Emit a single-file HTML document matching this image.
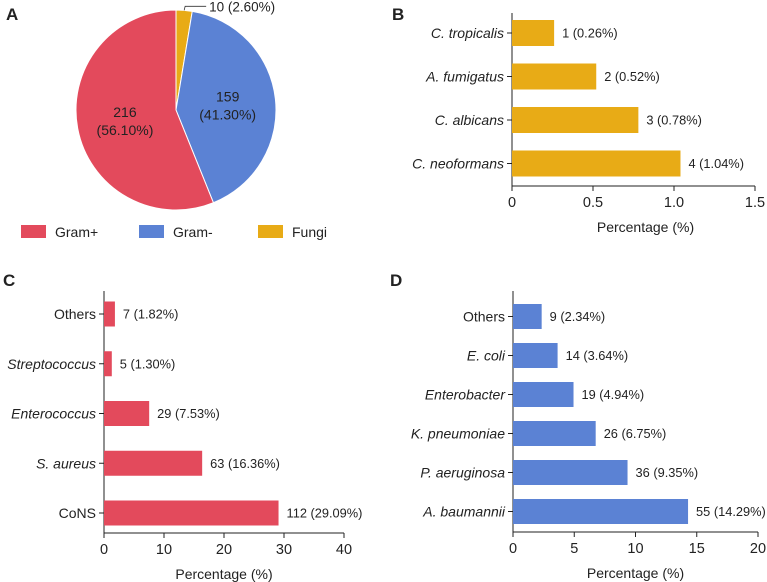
<!DOCTYPE html>
<html><head><meta charset="utf-8"><style>
body{margin:0;background:#fff;}
svg{display:block;font-family:"Liberation Sans",Arial,sans-serif;}
text{fill:#222;}
</style></head><body>
<svg id="fig" width="767" height="582" viewBox="0 0 767 582" xmlns="http://www.w3.org/2000/svg">
<text x="6" y="20" font-size="17" font-weight="bold">A</text>
<text x="392" y="20" font-size="17" font-weight="bold">B</text>
<text x="3" y="286" font-size="17" font-weight="bold">C</text>
<text x="390" y="286" font-size="17" font-weight="bold">D</text>
<g id="pie"></g>
<g id="legend"></g>
<g id="chartB"></g>
<g id="chartC"></g>
<g id="chartD"></g>
</svg>
<script>
const NS="http://www.w3.org/2000/svg";
const pieNames=["Fungi","Gram-","Gram+"];
const pieCounts=[10,159,216];
const pieLabels=["10 (2.60%)","159\n(41.30%)","216\n(56.10%)"];
const pieColors=["#e8ab16","#5b82d4","#e34a5c"];

const bCats=["C. tropicalis","A. fumigatus","C. albicans","C. neoformans"];
const bVals=[0.26,0.52,0.78,1.04];
const bLabels=["1 (0.26%)","2 (0.52%)","3 (0.78%)","4 (1.04%)"];
const bTicks=[0,0.5,1.0,1.5];
const bTickLabels=["0","0.5","1.0","1.5"];

const cCats=["Others","Streptococcus","Enterococcus","S. aureus","CoNS"];
const cItalic=[false,true,true,true,false];
const cVals=[1.82,1.30,7.53,16.36,29.09];
const cLabels=["7 (1.82%)","5 (1.30%)","29 (7.53%)","63 (16.36%)","112 (29.09%)"];
const cTicks=[0,10,20,30,40];

const dCats=["Others","E. coli","Enterobacter","K. pneumoniae","P. aeruginosa","A. baumannii"];
const dItalic=[false,true,true,true,true,true];
const dVals=[2.34,3.64,4.94,6.75,9.35,14.29];
const dLabels=["9 (2.34%)","14 (3.64%)","19 (4.94%)","26 (6.75%)","36 (9.35%)","55 (14.29%)"];
const dTicks=[0,5,10,15,20];

function el(tag,attrs,parent){const e=document.createElementNS(NS,tag);for(const k in attrs)e.setAttribute(k,attrs[k]);parent.appendChild(e);return e;}

(function(){
  const g=document.getElementById('pie');
  const cx=176,cy=110,r=100;
  const total=pieCounts.reduce((a,b)=>a+b,0);
  let a0=0;
  pieCounts.forEach((v,i)=>{
    const a1=a0+v/total*2*Math.PI;
    const x0=cx+r*Math.sin(a0),y0=cy-r*Math.cos(a0),x1=cx+r*Math.sin(a1),y1=cy-r*Math.cos(a1);
    const large=(a1-a0)>Math.PI?1:0;
    const p=el('path',{d:`M${cx},${cy}L${x0},${y0}A${r},${r} 0 ${large} 1 ${x1},${y1}Z`,fill:pieColors[i],stroke:'#fff','stroke-width':1},g);
    
    
    const mid=(a0+a1)/2;
    if(i===0){
      const lx=cx+r*Math.sin(mid),ly=cy-r*Math.cos(mid);
      const ln=el('polyline',{points:`${lx},${ly} ${lx+1},${ly-4} ${lx+22},${ly-4}`,fill:'none',stroke:'#333','stroke-width':0.8},g);
      
      
      const t=el('text',{x:lx+25,y:ly+1,'font-size':13.5},g);t.textContent=pieLabels[i];
      
      
    } else {
      const rr=r*0.52;
      const tx=cx+rr*Math.sin(mid),ty=cy-rr*Math.cos(mid);
      const parts=pieLabels[i].split('\n');
      const t=el('text',{x:tx,y:ty-3,'font-size':14,'text-anchor':'middle'},g);
      
      
      parts.forEach((s,k)=>{const ts=el('tspan',{x:tx,dy:k?18:0},t);ts.textContent=s;});
    }
    a0=a1;
  });
  const lg=document.getElementById('legend');
  const order=[2,1,0],lx=[21,139,258];
  order.forEach((idx,k)=>{
    const rc=el('rect',{x:lx[k],y:225,width:25,height:13,fill:pieColors[idx]},lg);
    
    
    const t=el('text',{x:lx[k]+34,y:237,'font-size':14},lg);t.textContent=pieNames[idx];
    
    
  });
})();

function barChart(id,o){
  const g=document.getElementById(id);
  const xs=v=>o.x0+(v-o.min)/(o.max-o.min)*(o.x1-o.x0);
  el('line',{x1:o.x0,y1:o.top,x2:o.x0,y2:o.axisY,stroke:'#222','stroke-width':1},g);
  el('line',{x1:o.x0,y1:o.axisY,x2:o.x1,y2:o.axisY,stroke:'#222','stroke-width':1},g);
  o.ticks.forEach((t,i)=>{
    el('line',{x1:xs(t),y1:o.axisY,x2:xs(t),y2:o.axisY+5,stroke:'#222'},g);
    const tx=el('text',{x:xs(t),y:o.axisY+21,'font-size':14.5,'text-anchor':'middle'},g);
    tx.textContent=o.tickLabels?o.tickLabels[i]:String(t);
    
    
  });
  const ttl=el('text',{x:(o.x0+o.x1)/2+(o.titleOff||0),y:o.axisY+46,'font-size':14,'text-anchor':'middle'},g);
  ttl.textContent='Percentage (%)';
  
  
  const n=o.cats.length;
  const step=(o.lastC-o.firstC)/(n-1);
  o.cats.forEach((c,i)=>{
    const yc=o.firstC+i*step;
    const b=el('rect',{x:o.x0,y:yc-o.bh/2,width:xs(o.vals[i])-o.x0,height:o.bh,fill:o.color},g);
    
    
    el('line',{x1:o.x0-5,y1:yc,x2:o.x0,y2:yc,stroke:'#222'},g);
    const lab=el('text',{x:o.x0-8,y:yc+5,'font-size':14,'text-anchor':'end','font-style':(o.italic&&!o.italic[i])?'normal':'italic'},g);
    lab.textContent=c;
    
    
    const vl=el('text',{x:xs(o.vals[i])+8,y:yc+4.5,'font-size':12.8},g);
    vl.textContent=o.labels[i];
    
    
  });
}
barChart('chartB',{cats:bCats,vals:bVals,labels:bLabels,ticks:bTicks,tickLabels:bTickLabels,min:0,max:1.5,x0:512,x1:755,top:13,axisY:186,firstC:33,lastC:163.5,bh:26,color:'#e8ab16',titleOff:12});
barChart('chartC',{cats:cCats,vals:cVals,labels:cLabels,ticks:cTicks,italic:cItalic,min:0,max:40,x0:104,x1:344,top:291,axisY:533,firstC:314,lastC:513,bh:25,color:'#e34a5c'});
barChart('chartD',{cats:dCats,vals:dVals,labels:dLabels,ticks:dTicks,italic:dItalic,min:0,max:20,x0:513,x1:758,top:291,axisY:532,firstC:316.5,lastC:511.5,bh:25,color:'#5b82d4'});
</script>
</body></html>
